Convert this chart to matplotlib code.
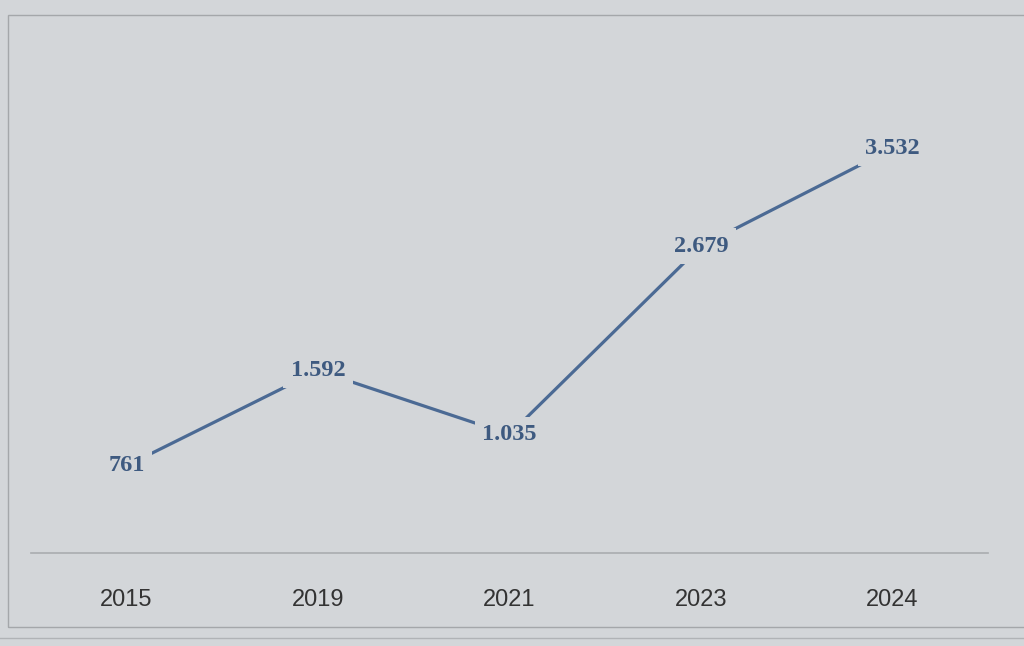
import matplotlib.pyplot as plt
from matplotlib.patches import Rectangle

years = ['2015', '2019', '2021', '2023', '2024']
values = [761, 1592, 1035, 2679, 3532]

bg = '#d3d6d9'
line_col = '#4b6a94'
label_col = '#3e5a80'

fig = plt.figure(figsize=(10.24, 6.46), dpi=100)
fig.patch.set_facecolor(bg)
ax = fig.add_axes([0.03, 0.144, 0.935, 0.709])
ax.set_facecolor(bg)

x = list(range(len(years)))
ax.plot(x, values, color=line_col, lw=2.3, zorder=2, solid_capstyle='butt')

# data labels centred on the points, masking the line underneath
for xi, v in zip(x, values):
    txt = f"{v:,}".replace(',', '.')
    ax.text(xi, v, txt, ha='center', va='center', fontsize=17.5, fontweight='bold',
            family=['Liberation Serif', 'DejaVu Serif'], color=label_col, zorder=3,
            bbox=dict(boxstyle='square,pad=0.3', fc=bg, ec='none'))

ax.set_xlim(-0.5, 4.5)
ax.set_ylim(0, 4000)
ax.set_yticks([])
ax.set_xticks(x)
ax.set_xticklabels(years, fontsize=17, color='#333333',
                   family=['Liberation Sans Narrow', 'Liberation Sans', 'DejaVu Sans'])
ax.tick_params(axis='x', length=0, pad=26)
for s in ['top', 'left', 'right']:
    ax.spines[s].set_visible(False)
ax.spines['bottom'].set_color('#a9acaf')
ax.spines['bottom'].set_linewidth(1.2)

# chart-area border and sheet gridline seen in the screenshot
fig.add_artist(Rectangle((0.008, 0.03), 1.2, 0.947, transform=fig.transFigure,
                         fill=False, ec='#a4a7aa', lw=1.0))
fig.add_artist(plt.Line2D([0, 1], [0.012, 0.012], transform=fig.transFigure,
                          color='#b0b3b6', lw=1.0))

fig.savefig('out.png', dpi=100, facecolor=bg)
